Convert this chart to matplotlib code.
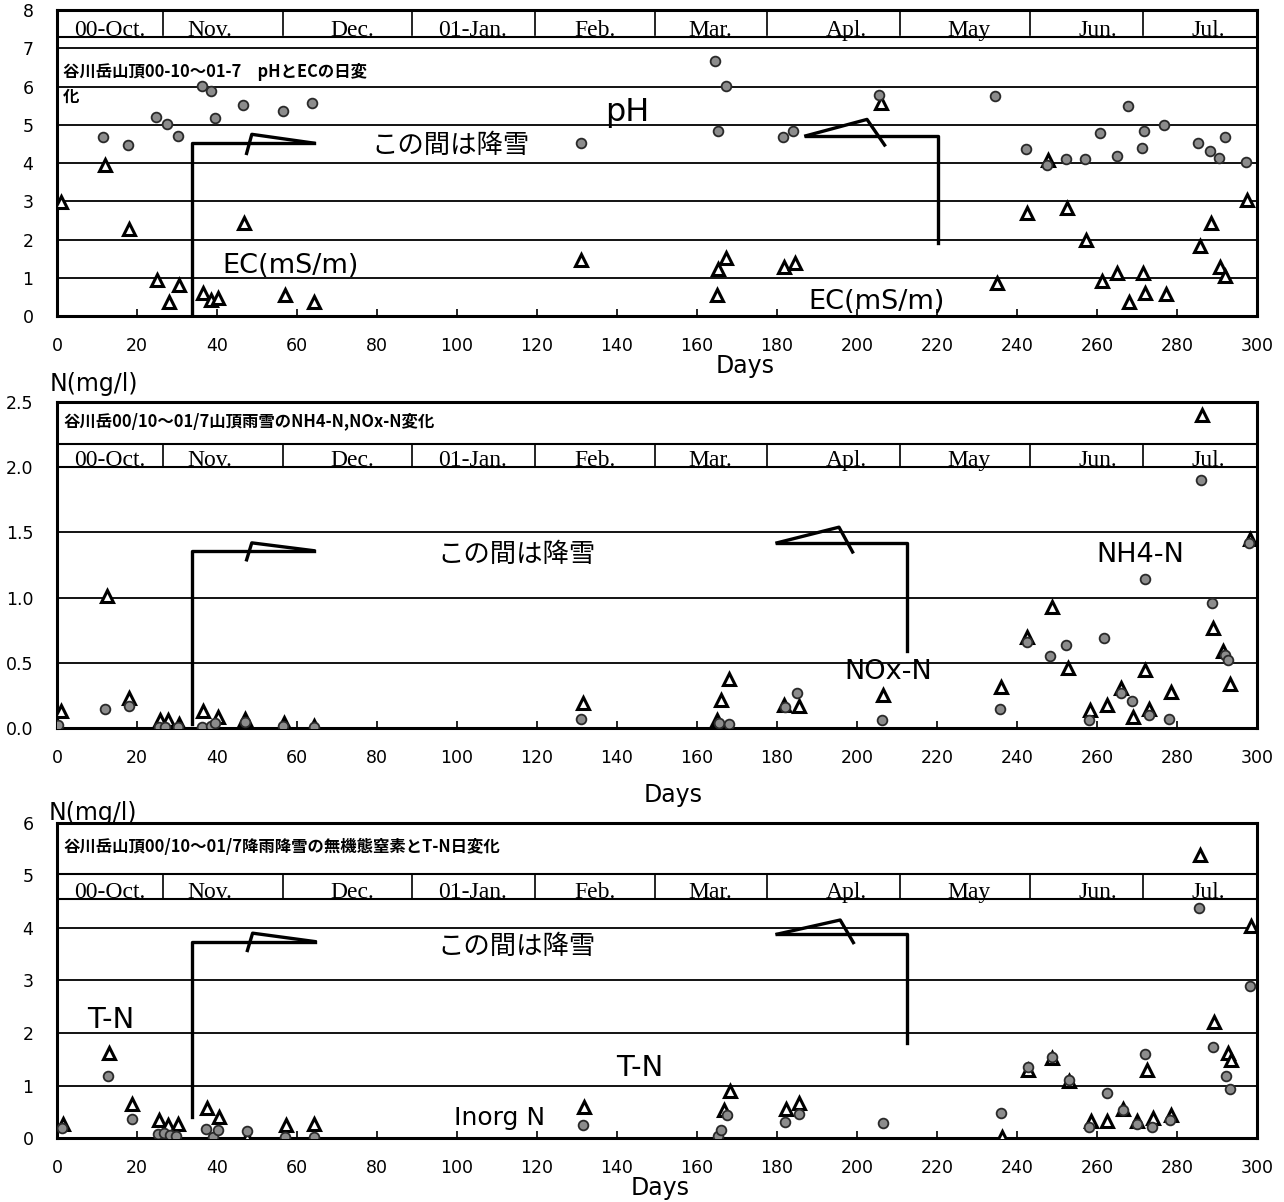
import matplotlib
matplotlib.use("Agg")
import matplotlib.pyplot as plt
import numpy as np

plt.rcParams['font.family'] = ['DejaVu Sans', 'Noto Sans CJK JP']
JP = ['Noto Sans CJK JP', 'DejaVu Sans']
SERIF = ['Liberation Serif', 'DejaVu Serif']

# ---------------- pH and EC (summit precipitation) ----------------
ph_days = [11.5, 17.7, 24.7, 27.5, 30.3, 36.3, 38.4, 39.6, 46.4, 56.5, 63.7,
           130.9, 164.6, 167.3, 165.2, 181.4, 184.1, 205.6, 234.5, 242.2,
           247.6, 252.2, 256.9, 260.8, 265.0, 267.8, 271.2, 271.7, 276.7,
           285.2, 288.3, 290.6, 291.9, 297.3]
ph_vals = [4.69, 4.46, 5.19, 5.01, 4.71, 6.02, 5.89, 5.17, 5.52, 5.37, 5.56,
           4.51, 6.67, 6.01, 4.84, 4.69, 4.84, 5.78, 5.76, 4.37,
           3.95, 4.10, 4.10, 4.78, 4.19, 5.49, 4.39, 4.84, 4.99,
           4.53, 4.32, 4.12, 4.67, 4.03]

ec_days = [1.1, 11.9, 18.1, 25.1, 27.9, 30.5, 36.5, 38.6, 40.2, 46.7, 56.9,
           64.3, 131.1, 164.9, 165.2, 167.3, 181.8, 184.6, 205.9, 234.9,
           242.5, 247.8, 252.5, 257.2, 261.3, 265.1, 268.1, 271.5, 272.0,
           277.2, 285.7, 288.5, 290.8, 292.1, 297.6]
ec_vals = [2.97, 3.95, 2.27, 0.94, 0.37, 0.81, 0.59, 0.42, 0.46, 2.44, 0.55,
           0.37, 1.46, 0.55, 1.22, 1.51, 1.27, 1.39, 5.56, 0.85,
           2.68, 4.08, 2.82, 2.00, 0.92, 1.13, 0.37, 1.13, 0.59,
           0.58, 1.83, 2.44, 1.29, 1.05, 3.03]

# ---------------- NH4-N and NOx-N ----------------
nh4_days = [0.3, 11.9, 17.9, 25.4, 27.0, 30.3, 36.3, 38.6, 39.6, 46.9, 56.5,
            64.2, 131.1, 165.4, 167.9, 182.0, 185.1, 206.2, 235.7, 242.5,
            248.3, 252.3, 257.9, 261.8, 266.0, 268.8, 271.9, 273.0, 277.9,
            285.9, 288.8, 292.1, 292.8, 298.1]
nh4_vals = [0.025, 0.148, 0.17, 0.01, 0.01, 0.01, 0.01, 0.02, 0.04, 0.05, 0.02,
            0.01, 0.07, 0.04, 0.035, 0.165, 0.27, 0.065, 0.145, 0.66,
            0.55, 0.64, 0.065, 0.69, 0.27, 0.21, 1.14, 0.10, 0.07,
            1.90, 0.96, 0.56, 0.52, 1.42]

nox_days = [1.0, 12.4, 18.1, 25.7, 27.8, 30.5, 36.5, 40.2, 46.9, 56.8, 64.2,
            131.4, 165.1, 165.9, 168.0, 181.8, 185.6, 206.4, 235.9, 242.5,
            248.7, 252.8, 258.2, 262.4, 266.0, 269.1, 272.0, 273.0, 278.4,
            286.2, 289.1, 291.6, 293.2, 298.3]
nox_vals = [0.13, 1.01, 0.23, 0.06, 0.06, 0.03, 0.135, 0.09, 0.07, 0.04, 0.02,
            0.19, 0.065, 0.22, 0.375, 0.18, 0.17, 0.255, 0.32, 0.70,
            0.93, 0.46, 0.14, 0.18, 0.31, 0.09, 0.45, 0.15, 0.28,
            2.40, 0.77, 0.59, 0.34, 1.45]

# ---------------- Inorganic N and T-N ----------------
inorg_days = [1.3, 12.7, 18.7, 25.3, 26.8, 28.3, 29.8, 37.3, 38.9, 40.2, 47.5,
              57.1, 64.2, 131.4, 165.3, 165.9, 167.5, 182.0, 185.4, 206.5,
              235.9, 242.7, 248.7, 253.0, 258.0, 262.4, 266.4, 269.9, 272.0,
              273.8, 278.2, 285.5, 289.1, 292.2, 293.2, 298.3]
inorg_vals = [0.19, 1.18, 0.36, 0.08, 0.10, 0.06, 0.05, 0.17, 0.02, 0.15, 0.14,
              0.03, 0.03, 0.25, 0.05, 0.16, 0.44, 0.31, 0.47, 0.30,
              0.475, 1.36, 1.54, 1.10, 0.22, 0.87, 0.54, 0.28, 1.60,
              0.22, 0.35, 4.37, 1.74, 1.18, 0.93, 2.90]

tn_days = [1.6, 12.9, 18.7, 25.5, 27.8, 30.3, 37.6, 40.4, 47.6, 57.3, 64.3,
           131.7, 166.8, 168.3, 182.3, 185.6, 236.2, 242.7, 248.7, 253.0,
           258.6, 262.5, 266.4, 269.9, 272.4, 274.0, 278.4, 285.7, 289.3,
           292.7, 293.4, 298.6]
tn_vals = [0.28, 1.63, 0.65, 0.35, 0.25, 0.28, 0.57, 0.40, 0.00, 0.25, 0.28,
           0.60, 0.54, 0.89, 0.55, 0.67, 0.03, 1.29, 1.52, 1.08,
           0.32, 0.33, 0.55, 0.32, 1.29, 0.38, 0.44, 5.39, 2.22,
           1.63, 1.49, 4.04]

# ---------------- calendar header ----------------
months = ['00-Oct.', 'Nov.', 'Dec.', '01-Jan.', 'Feb.', 'Mar.', 'Apl.', 'May', 'Jun.', 'Jul.']
month_centers = [13.3, 38.1, 73.9, 104.0, 134.5, 163.2, 197.3, 228.1, 260.3, 287.8]
month_edges = [26.4, 56.6, 88.7, 119.5, 149.4, 177.6, 210.8, 243.2, 271.4]
x_ticks = list(range(0, 301, 20))

fig = plt.figure(figsize=(12.84, 12.02), dpi=100)

circle_style = dict(ls='none', marker='o', ms=7, mfc='#8c8c8c', mec='#2a2a2a', mew=1.3, zorder=5)
tri_style = dict(ls='none', marker='^', ms=8.5, mfc='white', mec='black', mew=2.2, zorder=4)


def make_panel(rect, ymax, yticks, yfmt, grid, band, title, title_y, bracket_l, bracket_r):
    ax = fig.add_axes(rect)
    ax.set_xlim(0, 300)
    ax.set_ylim(0, ymax)
    for s in ax.spines.values():
        s.set_linewidth(2.2)
        s.set_color('black')
    ax.set_xticks(x_ticks)
    ax.set_xticklabels([str(t) for t in x_ticks])
    ax.tick_params(axis='x', direction='in', length=5, width=1.2, pad=15, labelsize=12.5)
    ax.set_yticks(yticks)
    ax.set_yticklabels([yfmt.format(t) for t in yticks])
    ax.tick_params(axis='y', length=0, pad=17, labelsize=12.5)
    for g in grid:
        ax.axhline(g, color='black', lw=1.3, zorder=1)
    lo, hi = band
    ax.axhline(lo, color='black', lw=1.5, zorder=1)
    ax.axhline(hi, color='black', lw=1.5, zorder=1)
    span = hi - lo
    for e in month_edges:
        ax.plot([e, e], [lo + 0.05 * span, hi - 0.05 * span], color='black', lw=1.2, zorder=1)
    for lab, c in zip(months, month_centers):
        ax.text(c, lo + 0.03 * span, lab, ha='center', va='baseline',
                family=SERIF, fontsize=17)
    ax.text(1.5, title_y, title, ha='left', va='center', family=JP,
            fontsize=11.8, fontweight='bold', linespacing=1.45)
    # snowfall period bracket, left side
    x0, x1, y0, yh, px, pyl, pyh = bracket_l
    ax.plot([x0, x0, x1], [y0, yh, yh], color='black', lw=2.4, zorder=3)
    ax.plot([px, px + 1.3, x1], [pyl, pyh, yh], color='black', lw=2.4, zorder=3)
    # snowfall period bracket, right side
    x0, x1, yh, yb, qx, qy, rx, ry = bracket_r
    ax.plot([x0, x1, x1], [yh, yh, yb], color='black', lw=2.4, zorder=3)
    ax.plot([x0, qx, rx], [yh, qy, ry], color='black', lw=2.4, zorder=3)
    return ax


LBL = 19.5  # size of the in-plot series labels
SNOW = 19   # size of the snowfall note

# ---- top panel: pH and EC ----
ax1 = make_panel([0.04439, 0.73710, 0.93458, 0.25458], 8, list(range(0, 9)), '{:d}',
                 [1, 2, 3, 4, 5, 6, 7], (7.3, 8.0),
                 '谷川岳山頂00-10～01-7　pHとECの日変\n化', 6.06,
                 (33.7, 64.2, 0.0, 4.52, 47.4, 4.25, 4.75),
                 (187.2, 220.2, 4.71, 1.9, 202.5, 5.14, 206.9, 4.47))
ax1.plot(ec_days, ec_vals, **tri_style)
ax1.plot(ph_days, ph_vals, **circle_style)
ax1.text(142.5, 5.31, 'pH', ha='center', va='center', fontsize=23)
ax1.text(98.3, 4.47, 'この間は降雪', ha='center', va='center', family=JP, fontsize=SNOW)
ax1.text(58.3, 1.31, 'EC(mS/m)', ha='center', va='center', fontsize=LBL)
ax1.text(204.9, 0.37, 'EC(mS/m)', ha='center', va='center', fontsize=LBL)
ax1.text(172, -1.32, 'Days', ha='center', va='center', fontsize=17, clip_on=False)

# ---- middle panel: NH4-N and NOx-N ----
ax2 = make_panel([0.04439, 0.39409, 0.93458, 0.27163], 2.5, [0, 0.5, 1.0, 1.5, 2.0, 2.5], '{:.1f}',
                 [0.5, 1.0, 1.5], (2.0, 2.18),
                 '谷川岳00/10～01/7山頂雨雪のNH4-N,NOx-N変化', 2.35,
                 (33.7, 64.2, 0.03, 1.36, 47.4, 1.29, 1.42),
                 (180.0, 212.4, 1.42, 0.59, 195.5, 1.54, 198.9, 1.35))
ax2.plot(nox_days, nox_vals, **tri_style)
ax2.plot(nh4_days, nh4_vals, **circle_style)
ax2.text(115, 1.33, 'この間は降雪', ha='center', va='center', family=JP, fontsize=SNOW)
ax2.text(270.9, 1.33, 'NH4-N', ha='center', va='center', fontsize=LBL)
ax2.text(207.9, 0.43, 'NOx-N', ha='center', va='center', fontsize=LBL)
ax2.text(9.3, 2.64, 'N(mg/l)', ha='center', va='center', fontsize=17, clip_on=False)
ax2.text(154, -0.51, 'Days', ha='center', va='center', fontsize=17, clip_on=False)

# ---- bottom panel: inorganic N and T-N ----
ax3 = make_panel([0.04439, 0.05300, 0.93458, 0.26256], 6, list(range(0, 7)), '{:d}',
                 [1, 2, 3, 4], (4.55, 5.03),
                 '谷川岳山頂00/10～01/7降雨降雪の無機態窒素とT-N日変化', 5.54,
                 (33.7, 64.5, 0.41, 3.74, 47.6, 3.57, 3.90),
                 (180.0, 212.6, 3.88, 1.82, 195.8, 4.15, 199.1, 3.72))
ax3.plot(tn_days, tn_vals, **tri_style)
ax3.plot(inorg_days, inorg_vals, **circle_style)
ax3.text(115, 3.64, 'この間は降雪', ha='center', va='center', family=JP, fontsize=SNOW)
ax3.text(13.5, 2.25, 'T-N', ha='center', va='center', fontsize=21)
ax3.text(145.8, 1.34, 'T-N', ha='center', va='center', fontsize=21)
ax3.text(110.6, 0.38, 'Inorg N', ha='center', va='center', fontsize=18)
ax3.text(9.0, 6.18, 'N(mg/l)', ha='center', va='center', fontsize=17, clip_on=False)
ax3.text(150.8, -0.945, 'Days', ha='center', va='center', fontsize=17, clip_on=False)

fig.savefig('out.png', dpi=100)
